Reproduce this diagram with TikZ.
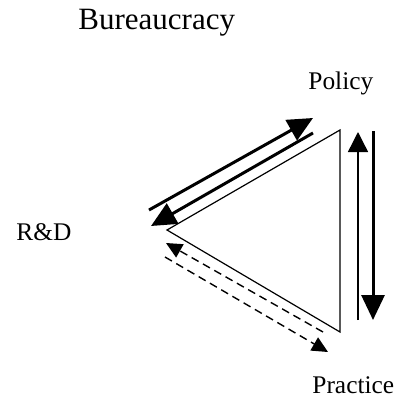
\documentclass[tikz,border=0pt]{standalone}
\usepackage{fontspec}
\setmainfont{Liberation Serif}
\usetikzlibrary{arrows.meta}

\begin{document}
\begin{tikzpicture}[x=0.5pt,y=-0.5pt,
		thickarr/.style={line width=1.5pt,-{Triangle[length=12.5pt,width=11.5pt]}},
		thinarr/.style={line width=0.7pt,-{Triangle[length=10pt,width=10pt]}},
		dasharr/.style={line width=0.7pt,dash pattern=on 4pt off 2.5pt,-{Triangle[length=8pt,width=7.5pt]}},
		lbl/.style={anchor=base west,inner sep=0pt,font=\fontsize{12.7}{15}\selectfont}]
	\useasboundingbox (0,0) rectangle (394,397);
	\node[lbl,font=\fontsize{15.5}{18}\selectfont] (bur) at (78,29) {Bureaucracy};
	\node[lbl] (pol) at (308,89) {Policy};
	\node[lbl] (rd) at (16,240) {R\&D};
	\node[lbl] (prac) at (312,393) {Practice};

	\coordinate (top) at (340,130);
	\coordinate (left) at (167,230);
	\coordinate (bot) at (340,332);
		 \draw[line width=0.6pt] (top) -- (left) -- (bot) -- cycle;

	\coordinate (rd1) at (149,210);
	\coordinate (pol1) at (313,118);
	\coordinate (pol2) at (313,133);
	\coordinate (rd2) at (151,226);
	\coordinate (pr1) at (358,320);
	\coordinate (pol3) at (358,132);
	\coordinate (pol4) at (373,131);
	\coordinate (pr2) at (373,320);
	\coordinate (pr3) at (323,332);
	\coordinate (rd3) at (166,243);
	\coordinate (rd4) at (165,257);
	\coordinate (pr4) at (328,352);
		\draw[thickarr] (rd1) -- (pol1);
		\draw[thickarr] (pol2) -- (rd2);
		\draw[thinarr] (pr1) -- (pol3);
		\draw[thickarr] (pol4) -- (pr2);
		\draw[dasharr] (pr3) -- (rd3);
		\draw[dasharr] (rd4) -- (pr4);
\end{tikzpicture}
\end{document}
